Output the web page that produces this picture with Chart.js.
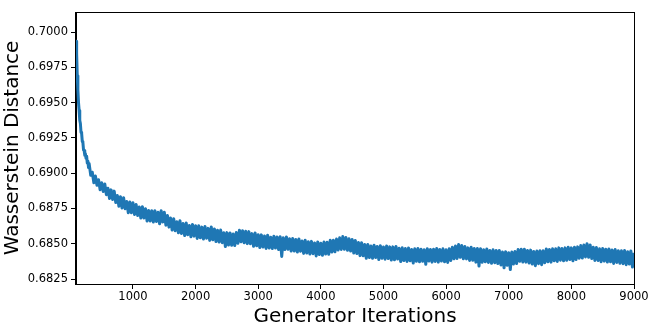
<!DOCTYPE html>
<html>
<head>
<meta charset="utf-8">
<script src="https://cdn.jsdelivr.net/npm/chart.js@4.4.1/dist/chart.umd.min.js"></script>
<style>
html, body { margin: 0; padding: 0; background: #fff; }
canvas { display: block; }
</style>
</head>
<body>
<canvas id="chart" width="660" height="335"></canvas>
<script>
"use strict";

// steep start of the run, read every 10 iterations
const headIterations = [90, 100, 110, 120, 130, 140, 150, 160, 170, 180, 190,
    200, 210, 220, 230, 240, 250, 260, 270, 280, 290];
const headDistances = [0.69935, 0.69850, 0.69690, 0.69590, 0.69500, 0.69445, 0.69375, 0.69352, 0.69290, 0.69282, 0.69225,
    0.69218, 0.69165, 0.69160, 0.69128, 0.69138, 0.69105, 0.69120, 0.69072, 0.69085, 0.69040];

// rest of the run, one value every 25 iterations from 300 to 9000
const bodyStart = 300;
const bodyStep = 25;
const bodyDistances = [
    0.69068, 0.68985, 0.69007, 0.68933, 0.68980, 0.68914, 0.68954, 0.68883, 0.68932, 0.68870,
    0.68923, 0.68848, 0.68894, 0.68820, 0.68882, 0.68814, 0.68873, 0.68792, 0.68842, 0.68766,
    0.68833, 0.68754, 0.68826, 0.68748, 0.68800, 0.68720, 0.68796, 0.68720, 0.68790, 0.68707,
    0.68778, 0.68700, 0.68761, 0.68682, 0.68763, 0.68682, 0.68748, 0.68661, 0.68736, 0.68662,
    0.68734, 0.68654, 0.68734, 0.68658, 0.68723, 0.68642, 0.68734, 0.68654, 0.68723, 0.68632,
    0.68700, 0.68618, 0.68682, 0.68597, 0.68678, 0.68592, 0.68656, 0.68578, 0.68663, 0.68572,
    0.68643, 0.68559, 0.68647, 0.68564, 0.68630, 0.68549, 0.68637, 0.68554, 0.68628, 0.68538,
    0.68627, 0.68543, 0.68618, 0.68534, 0.68622, 0.68539, 0.68609, 0.68524, 0.68619, 0.68528,
    0.68605, 0.68516, 0.68596, 0.68513, 0.68597, 0.68508, 0.68578, 0.68480, 0.68579, 0.68491,
    0.68576, 0.68490, 0.68569, 0.68487, 0.68580, 0.68503, 0.68596, 0.68514, 0.68593, 0.68507,
    0.68588, 0.68501, 0.68586, 0.68500, 0.68572, 0.68482, 0.68576, 0.68486, 0.68564, 0.68474,
    0.68563, 0.68477, 0.68555, 0.68467, 0.68561, 0.68470, 0.68547, 0.68466, 0.68553, 0.68470,
    0.68548, 0.68459, 0.68550, 0.68410, 0.68542, 0.68459, 0.68548, 0.68461, 0.68536, 0.68448,
    0.68537, 0.68449, 0.68530, 0.68442, 0.68534, 0.68447, 0.68520, 0.68432, 0.68525, 0.68435,
    0.68515, 0.68427, 0.68517, 0.68430, 0.68506, 0.68414, 0.68513, 0.68424, 0.68504, 0.68419,
    0.68512, 0.68428, 0.68511, 0.68426, 0.68525, 0.68442, 0.68525, 0.68443, 0.68533, 0.68456,
    0.68542, 0.68460, 0.68551, 0.68461, 0.68545, 0.68454, 0.68535, 0.68448, 0.68530, 0.68434,
    0.68524, 0.68431, 0.68509, 0.68416, 0.68507, 0.68415, 0.68495, 0.68397, 0.68495, 0.68403,
    0.68485, 0.68397, 0.68490, 0.68402, 0.68481, 0.68388, 0.68486, 0.68397, 0.68477, 0.68391,
    0.68485, 0.68395, 0.68478, 0.68385, 0.68478, 0.68387, 0.68481, 0.68392, 0.68469, 0.68374,
    0.68471, 0.68381, 0.68466, 0.68375, 0.68470, 0.68379, 0.68460, 0.68364, 0.68465, 0.68376,
    0.68466, 0.68372, 0.68461, 0.68376, 0.68458, 0.68355, 0.68465, 0.68378, 0.68460, 0.68370,
    0.68462, 0.68375, 0.68467, 0.68370, 0.68460, 0.68378, 0.68464, 0.68372, 0.68457, 0.68368,
    0.68465, 0.68382, 0.68476, 0.68394, 0.68485, 0.68396, 0.68495, 0.68404, 0.68487, 0.68394,
    0.68481, 0.68393, 0.68471, 0.68382, 0.68476, 0.68383, 0.68467, 0.68370, 0.68466, 0.68342,
    0.68465, 0.68369, 0.68458, 0.68373, 0.68463, 0.68368, 0.68453, 0.68362, 0.68457, 0.68366,
    0.68452, 0.68360, 0.68452, 0.68350, 0.68441, 0.68330, 0.68444, 0.68348, 0.68437, 0.68317,
    0.68442, 0.68357, 0.68446, 0.68360, 0.68460, 0.68376, 0.68462, 0.68371, 0.68462, 0.68370,
    0.68452, 0.68363, 0.68455, 0.68357, 0.68446, 0.68345, 0.68449, 0.68359, 0.68451, 0.68352,
    0.68450, 0.68366, 0.68463, 0.68372, 0.68460, 0.68370, 0.68464, 0.68379, 0.68464, 0.68375,
    0.68471, 0.68384, 0.68466, 0.68379, 0.68471, 0.68383, 0.68476, 0.68389, 0.68471, 0.68380,
    0.68476, 0.68388, 0.68478, 0.68398, 0.68487, 0.68399, 0.68491, 0.68407, 0.68500, 0.68404,
    0.68491, 0.68396, 0.68476, 0.68382, 0.68473, 0.68382, 0.68464, 0.68373, 0.68467, 0.68377,
    0.68462, 0.68371, 0.68463, 0.68373, 0.68456, 0.68361, 0.68459, 0.68368, 0.68451, 0.68362,
    0.68450, 0.68359, 0.68452, 0.68352, 0.68444, 0.68357, 0.68449, 0.68335, 0.68437
];

const xTicks = [1000, 2000, 3000, 4000, 5000, 6000, 7000, 8000, 9000];
const yTicks = [0.6825, 0.6850, 0.6875, 0.6900, 0.6925, 0.6950, 0.6975, 0.7000];

const kLineColor = "#1f77b4";
const kFamily = "'DejaVu Sans', sans-serif";

function* buildPoints() {
    for (let id = 0; id < headIterations.length; id++) {
        yield { x: headIterations[id], y: headDistances[id] };
    }
    for (let id = 0; id < bodyDistances.length; id++) {
        yield { x: bodyStart + (id * bodyStep), y: bodyDistances[id] };
    }
}

// matplotlib draws a full box round the axes
const framePlugin = {
    id: "frame",
    afterDatasetsDraw(chart) {
        const { ctx, chartArea } = chart;
        const left = Math.round(chartArea.left) - 0.5;
        const top = Math.round(chartArea.top) + 0.5;
        const right = Math.round(chartArea.right) + 0.5;
        const bottom = Math.round(chartArea.bottom) + 0.5;
        ctx.save();
        ctx.strokeStyle = "#000";
        ctx.lineWidth = 1;
        ctx.strokeRect(left, top, right - left, bottom - top);
        ctx.restore();
    }
};

function axisStyle(ticks, format, padding) {
    return {
        type: "linear",
        afterBuildTicks: (scale) => {
            scale.ticks = ticks.map((value) => ({ value }));
        },
        grid: {
            display: true,
            drawOnChartArea: false,
            drawTicks: true,
            tickLength: 5,
            tickColor: "#000",
            tickWidth: 1
        },
        border: { display: true, color: "#000", width: 1 },
        ticks: {
            autoSkip: false,
            maxRotation: 0,
            minRotation: 0,
            padding,
            color: "#000",
            font: { family: kFamily, size: 11.5 },
            callback: format
        }
    };
}

document.addEventListener("DOMContentLoaded", () => {
    const xScale = axisStyle(xTicks, (value) => String(value), 1);
    xScale.min = 90;
    xScale.max = 9000;
    xScale.title = {
        display: true,
        text: "Generator Iterations",
        color: "#000",
        font: { family: kFamily, size: 20, lineHeight: 1 },
        padding: { top: 0, bottom: 8 }
    };
    xScale.afterFit = (scale) => {
        scale.height = 51;
    };

    const yScale = axisStyle(yTicks, (value) => value.toFixed(4), 3);
    yScale.min = 0.68215;
    yScale.max = 0.70142;
    yScale.title = {
        display: true,
        text: "Wasserstein Distance",
        color: "#000",
        font: { family: kFamily, size: 20, lineHeight: 1 },
        padding: { top: 3, bottom: 0 }
    };
    yScale.afterFit = (scale) => {
        scale.width = 76;
    };

    new Chart(document.getElementById("chart").getContext("2d"), {
        type: "line",
        data: {
            datasets: [{
                data: [...buildPoints()],
                borderColor: kLineColor,
                borderWidth: 3,
                borderJoinStyle: "round",
                pointRadius: 0,
                tension: 0,
                fill: false
            }]
        },
        options: {
            responsive: false,
            animation: false,
            layout: { padding: { top: 12, right: 26, left: 0, bottom: 0 } },
            plugins: {
                legend: { display: false },
                tooltip: { enabled: false }
            },
            scales: { x: xScale, y: yScale }
        },
        plugins: [framePlugin]
    });
});
</script>
</body>
</html>
